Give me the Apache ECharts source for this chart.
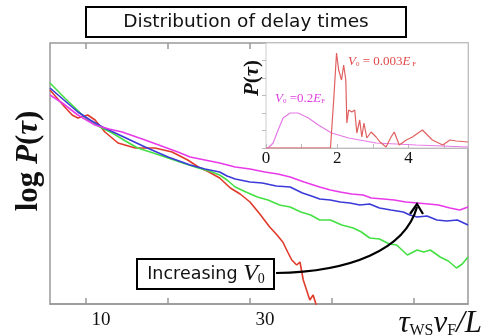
<!DOCTYPE html>
<html>
<head>
<meta charset="utf-8">
<script src="https://cdn.jsdelivr.net/npm/echarts@6/dist/echarts.min.js"></script>
<style>
  html, body { margin: 0; padding: 0; background: #fff; }
  #chart { width: 483px; height: 336px; }
</style>
</head>
<body>
<div id="chart"></div>
<script>
// main panel: x = tau_WS v_F / L, y = log P (arbitrary units)
const mainTicks = [10, 20, 30, 40, 50];
const mainLabels = [10, 30];
const redMain = [[5.6,214],[7.4,197],[8.3,189],[9,186],[10.2,189],[11.1,184],[12.3,172],[13.9,161],[16,156],[18.4,156],[20.5,152],[22.4,144],[23.7,137],[25,132],[26.3,126],[27.6,116],[28.8,110],[30,102],[31.2,90],[32.4,77],[33.2,70],[34,62],[34.6,52],[35.1,44],[35.7,39],[36.1,42],[36.5,24],[37.3,4],[37.7,9],[38.2,-4]];
const greenMain = [[5.6,221],[7.4,206],[8.8,195],[10.2,184],[11.7,177],[13.2,171],[14.8,163],[16.3,156],[18.2,151],[20,146],[21.8,141],[23.7,136],[25,133],[26.3,129],[27.2,124],[28.2,117],[29.5,112],[30.9,107],[32.2,104],[33.6,99],[34.9,97],[36.2,92],[37.4,89],[38.5,84],[39.8,84],[41.2,79],[42.6,76],[43.6,72],[44.6,66],[45.8,65],[47,60],[47.9,59],[49.2,49],[50.4,54],[51.2,52],[52,54],[53.2,47],[54.2,43],[55.2,36],[55.9,40],[56.6,47]];
const blueMain = [[5.6,216],[7.3,204],[9,192],[10.5,184],[12,177],[14.6,167],[17.2,157],[20,147],[22.7,139],[24.5,135],[26.3,132],[27.2,128],[28.2,125],[30,122],[31.5,121],[33.2,118],[34.9,117],[36.4,111],[37.5,108],[38.5,105],[39.8,104],[41,102],[42.2,101],[43.4,99],[44.6,100],[45.8,96],[47.2,94],[48.7,92],[49.5,89],[50.4,87],[51.6,88],[52.8,84],[54,83],[55.3,84],[56.6,79]];
const magentaMain = [[5.6,209],[7.1,201],[9,189],[11.1,179],[12.8,175],[14.4,172],[17.2,164],[19.2,158],[21.2,152],[22.7,147],[24.5,144],[26.3,141],[28.2,137],[30,135],[31.8,132],[33.4,130],[34.9,127],[36.6,122],[38.5,117],[39.8,114],[41,112],[42.4,110],[43.8,109],[44.8,106],[46.3,105],[47.6,104],[49,102],[50.4,101],[51.8,100],[53,99],[54.4,96],[55.6,94],[56.6,97]];

// inset: P(tau) vs tau
const insetTicks = [0, 2, 4];
const magentaInset = [[0,0],[0.06,0],[0.2,5],[0.34,18],[0.48,30],[0.68,35],[0.9,35],[1.19,30],[1.47,23],[1.84,15],[2.32,10],[3.09,5],[4.22,3],[5.67,1]];
const redInset = [[0,0],[1.81,0],[1.9,48],[1.98,95],[2.04,78],[2.12,68],[2.18,83],[2.24,68],[2.27,25],[2.32,38],[2.41,36],[2.49,38],[2.55,15],[2.63,28],[2.69,11],[2.75,25],[2.83,10],[2.95,16],[3.09,11],[3.2,6],[3.37,1],[3.51,11],[3.6,16],[3.74,3],[3.94,8],[4.11,11],[4.39,18],[4.67,8],[4.96,3],[5.16,8],[5.35,7],[5.67,6]];

const chart = echarts.init(document.getElementById("chart"));

const line = (data, color, width, xi, yi, z) => ({
  type: "line",
  data: data,
  xAxisIndex: xi,
  yAxisIndex: yi,
  symbol: "none",
  z: z,
  lineStyle: { color: color, width: width },
});

chart.setOption({
  animation: false,
  grid: [
    { left: 50, top: 43, right: 15, bottom: 32, show: true, borderColor: "#999", borderWidth: 1.5 },
    { left: 266, top: 43, right: 15, bottom: 188, show: true, borderColor: "#ccc", borderWidth: 1, backgroundColor: "#fff", z: 5 },
  ],
  xAxis: [
    {
      type: "value", gridIndex: 0, min: 5.6, max: 56.6,
      axisLine: { lineStyle: { color: "#999", width: 1.5 } },
      axisTick: { inside: true, length: 6, customValues: mainTicks, lineStyle: { color: "#999", width: 1.5 } },
      splitLine: { show: false },
      axisLabel: {
        margin: 7, padding: [0, 0, 0, 30],
        fontFamily: "Liberation Serif", fontSize: 19, color: "#111",
        customValues: mainLabels,
      },
    },
    {
      type: "value", gridIndex: 0, position: "top", min: 5.6, max: 56.6,
      axisLine: { show: false },
      axisTick: { inside: true, length: 6, customValues: mainTicks, lineStyle: { color: "#999", width: 1.5 } },
      axisLabel: { show: false }, splitLine: { show: false },
    },
    {
      type: "value", gridIndex: 1, min: 0, max: 5.67, interval: 1,
      axisLine: { lineStyle: { color: "#bbb", width: 1 } },
      axisTick: { inside: true, length: 4, lineStyle: { color: "#bbb" } },
      splitLine: { show: false },
      axisLabel: {
        margin: 2, fontFamily: "Liberation Serif", fontSize: 17, color: "#111",
        formatter: (v) => (insetTicks.indexOf(v) >= 0 ? String(v) : ""),
      },
      z: 6,
    },
  ],
  yAxis: [
    { type: "value", gridIndex: 0, min: 0, max: 261, show: false },
    {
      type: "value", gridIndex: 1, min: 0, max: 105, interval: 17.5, position: "right",
      axisLine: { show: false },
      axisTick: { show: true, inside: true, length: 4, lineStyle: { color: "#bbb" } },
      axisLabel: { show: false }, splitLine: { show: false },
      z: 6,
    },
  ],
  series: [
    line(redMain, "#e03a2a", 1.6, 0, 0, 2),
    line(greenMain, "#44e044", 1.6, 0, 0, 3),
    line(blueMain, "#3a3ad8", 1.6, 0, 0, 4),
    line(magentaMain, "#e83ae8", 1.6, 0, 0, 4),
    line(magentaInset, "#e67ae6", 1.2, 2, 1, 7),
    line(redInset, "#e06060", 1.2, 2, 1, 7),
  ],
  graphic: [
    // title box
    { type: "rect", shape: { x: 86, y: 7, width: 320, height: 30 }, style: { fill: "#fff", stroke: "#000", lineWidth: 2 }, z: 10 },
    { type: "text", x: 246, y: 22, z: 11, style: { text: "Distribution of delay times", font: "18.5px 'DejaVu Sans'", fill: "#111", align: "center", verticalAlign: "middle" } },
    // main y label
    {
      type: "text", x: 29, y: 161, rotation: Math.PI / 2, z: 10,
      style: {
        text: "{n|log }{i|P}{n|(}{i|τ}{n|)}", align: "center", verticalAlign: "middle",
        rich: {
          n: { font: "bold 31px 'Liberation Serif'", fill: "#111" },
          i: { font: "italic bold 31px 'Liberation Serif'", fill: "#111" },
        },
      },
    },
    // x label
    {
      type: "text", x: 482, y: 324, z: 10,
      style: {
        text: "{i|τ}{s|WS}{i|v}{s|F}{i|/L}", align: "right", verticalAlign: "middle",
        rich: {
          i: { font: "italic 31px 'Liberation Serif'", fill: "#111" },
          s: { font: "16px 'Liberation Serif'", fill: "#111", padding: [14, 0, 0, 0] },
        },
      },
    },
    // inset y label
    {
      type: "text", x: 253, y: 78, rotation: Math.PI / 2, z: 10,
      style: {
        text: "{i|P}{n|(}{i|τ}{n|)}", align: "center", verticalAlign: "middle",
        rich: {
          n: { font: "bold 21px 'Liberation Serif'", fill: "#111" },
          i: { font: "italic bold 21px 'Liberation Serif'", fill: "#111" },
        },
      },
    },
    // inset annotations
    {
      type: "text", x: 348, y: 62, z: 10,
      style: {
        text: "{i|V}{s|0}{n| = 0.003}{i|E}{s| F}", verticalAlign: "middle",
        rich: {
          i: { font: "italic 13px 'Liberation Serif'", fill: "#e04848" },
          n: { font: "13px 'Liberation Serif'", fill: "#e04848" },
          s: { font: "7px 'Liberation Serif'", fill: "#e04848", padding: [5, 0, 0, 0] },
        },
      },
    },
    {
      type: "text", x: 275, y: 99, z: 10,
      style: {
        text: "{i|V}{s|0}{n| =0.2}{i|E}{s|F}", verticalAlign: "middle",
        rich: {
          i: { font: "italic 13px 'Liberation Serif'", fill: "#e040e0" },
          n: { font: "13px 'Liberation Serif'", fill: "#e040e0" },
          s: { font: "7px 'Liberation Serif'", fill: "#e040e0", padding: [5, 0, 0, 0] },
        },
      },
    },
    // increasing V0 box and arrow
    {
      type: "bezierCurve", z: 10,
      shape: { x1: 276, y1: 273, cpx1: 350, cpy1: 272, cpx2: 405, cpy2: 250, x2: 417, y2: 207 },
      style: { stroke: "#000", lineWidth: 2.2, fill: null },
    },
    { type: "polyline", z: 10, shape: { points: [[410, 214], [417, 204], [423, 214]] }, style: { stroke: "#000", lineWidth: 2.2, fill: null } },
    { type: "rect", shape: { x: 137, y: 259, width: 137, height: 30 }, style: { fill: "#fff", stroke: "#000", lineWidth: 2 }, z: 10 },
    {
      type: "text", x: 206, y: 274, z: 11,
      style: {
        text: "{n|Increasing }{i|V}{s|0}", align: "center", verticalAlign: "middle",
        rich: {
          n: { font: "17.5px 'DejaVu Sans'", fill: "#111" },
          i: { font: "italic 24px 'Liberation Serif'", fill: "#111" },
          s: { font: "14px 'Liberation Serif'", fill: "#111", padding: [10, 0, 0, 0] },
        },
      },
    },
  ],
});
</script>
</body>
</html>
